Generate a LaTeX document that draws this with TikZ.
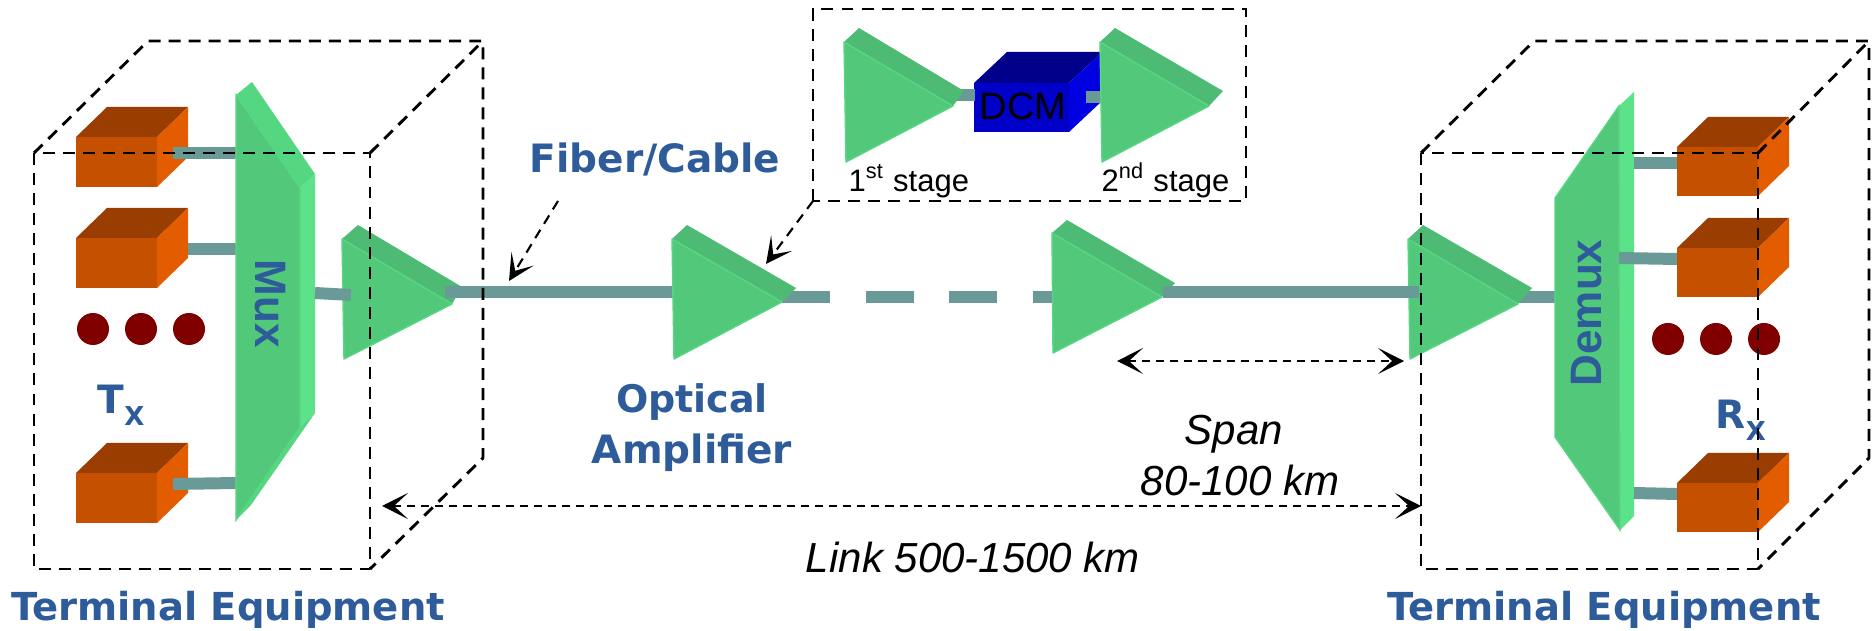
\documentclass[tikz,border=0pt]{standalone}
\usepackage{fontspec}
\setmainfont{Liberation Sans}
\newfontfamily\labfont[BoldFont={DejaVu Sans Bold}]{DejaVu Sans}
\usetikzlibrary{arrows.meta}
\definecolor{ampfront}{HTML}{51C87A}
\definecolor{amptop}{HTML}{4DBB73}
\definecolor{ampedge}{HTML}{58D682}
\definecolor{muxtop}{HTML}{55D680}
\definecolor{muxside}{HTML}{5CE289}
\definecolor{boxfront}{HTML}{C45000}
\definecolor{boxtop}{HTML}{993D00}
\definecolor{boxside}{HTML}{E35D00}
\definecolor{fibercol}{HTML}{6A9A98}
\definecolor{labelblue}{HTML}{2E5B99}
\definecolor{dotcol}{HTML}{800000}
\definecolor{dcmfront}{HTML}{0000C8}
\definecolor{dcmtop}{HTML}{00008B}
\definecolor{dcmside}{HTML}{0000E0}
\newcommand\fsz[1]{\fontsize{\dimexpr#1\dimexpr0.2845pt\relax\relax}{\dimexpr#1\dimexpr0.3pt\relax\relax}\selectfont}
\tikzset{
  x=0.01cm,y=-0.01cm,
  fiber/.style={draw=fibercol,line width=3.41pt},
  boxline/.style={draw=black,line width=0.82pt,dash pattern=on 3.4pt off 2.3pt},
  measure/.style={draw=black,line width=0.5pt,dash pattern=on 2.3pt off 1.7pt,
     {Stealth[length=7.4pt,width=7.4pt,inset=4pt]}-{Stealth[length=7.4pt,width=7.4pt,inset=4pt]}},
  pointer/.style={draw=black,line width=0.6pt,dash pattern=on 2.8pt off 2pt,
     -{Stealth[length=7.4pt,width=7.4pt,inset=4pt]}},
  bluelabel/.style={text=labelblue,font=\labfont\bfseries,inner sep=0pt,anchor=base},
  blacklabel/.style={text=black,inner sep=0pt,anchor=base},
  dot/.style={fill=dotcol,draw=none},
}
% amplifier: #1 name, #2 top-left, #3 bottom-left, #4 front tip, #5 back top, #6 back tip
\newcommand\ampshape[6]{
  \fill[amptop] #2 -- #5 -- #6 -- #4 -- cycle;
  \fill[ampfront,draw=ampedge,line width=0.4pt,line join=round] #2 -- #3 -- #4 -- cycle;
  \coordinate (#1-tip) at #4;
}
% orange box: front left, top, right, bottom
\newcommand\txbox[4]{
  \fill[boxfront] (#1,#2) rectangle (#3,#4);
  \fill[boxtop] (#1,#2) -- (#1+31,#2-30) -- (#3+31,#2-30) -- (#3,#2) -- cycle;
  \fill[boxside] (#3,#2) -- (#3+31,#2-30) -- (#3+31,#4-30) -- (#3,#4) -- cycle;
}
\begin{document}
\begin{tikzpicture}
\useasboundingbox (0,0) rectangle (1873,631);
\fill[white] (0,0) rectangle (1873,631);

% --- end points of the connectors
\coordinate (txa) at (173,153);  \coordinate (muxa) at (236,153);
\coordinate (txb) at (188,249);  \coordinate (muxb) at (238,249);
\coordinate (txc) at (173,484);  \coordinate (muxc) at (236,483);
\coordinate (muxout) at (315,293); \coordinate (ampAin) at (351,295);
\coordinate (ampAout) at (445,292); \coordinate (ampBin) at (680,292);
\coordinate (ampBout) at (782,297); \coordinate (ampCin) at (1060,297);
\coordinate (ampCout) at (1163,292); \coordinate (ampDin) at (1419,292);
\coordinate (ampDout) at (1515,297); \coordinate (demuxin) at (1556,297);
\coordinate (rxa) at (1677,163); \coordinate (demuxa) at (1634,163);
\coordinate (rxb) at (1677,259); \coordinate (demuxb) at (1619,258);
\coordinate (rxc) at (1677,494); \coordinate (demuxc) at (1634,493);
\coordinate (insOutA) at (950,95); \coordinate (dcmIn) at (975,95);
\coordinate (dcmOut) at (1086,97); \coordinate (insInB) at (1101,97);

% --- transmitters
\txbox{76}{137}{157}{187}
\txbox{76}{238}{157}{288}
\txbox{76}{473}{157}{523}
\fill[dot] (93,329) circle (16);
\fill[dot] (141,329) circle (16);
\fill[dot] (189,329) circle (16);
\node[bluelabel,anchor=base west] (txlabel) at (97,414) {\fsz{39}T\raisebox{-3.2pt}{\fsz{26}X}};

% --- fibres under the mux
\draw[fiber] (txa) -- (muxa);
\draw[fiber] (txb) -- (muxb);
\draw[fiber] (txc) -- (muxc);

% --- mux
\fill[muxtop] (236,95) -- (252,82) -- (315,174) -- (300,188) -- cycle;
\fill[muxside] (300,188) -- (315,174) -- (315,413) -- (300,427) -- cycle;
\fill[muxtop] (236,520) -- (251,505) -- (315,413) -- (300,427) -- cycle;
\fill[ampfront,draw=ampedge,line width=0.4pt] (236,95) -- (300,188) -- (300,427) -- (236,520) -- cycle;
\node[text=labelblue,inner sep=0pt,rotate=-90,font=\bfseries\fsz{44}] (muxlabel) at (270,304) {Mux};

% --- fibres and amplifiers of the link
\ampshape{ampA}{(342,239)}{(344,359)}{(452,304)}{(358,225)}{(462,287)}
\draw[fiber] (muxout) -- (ampAin);
\draw[fiber] (ampAout) -- (ampBin);
\draw[fiber,dash pattern=on 13.66pt off 10.1pt] (ampBout) -- (ampCin);
\draw[fiber] (ampDout) -- (demuxin);
\ampshape{ampB}{(672,239)}{(674,359)}{(782,302)}{(687,225)}{(796,288)}
\ampshape{ampC}{(1052,233)}{(1053,353)}{(1162,297)}{(1067,220)}{(1175,283)}
\ampshape{ampD}{(1408,239)}{(1410,359)}{(1518,304)}{(1423,225)}{(1532,288)}
\draw[fiber] (ampCout) -- (ampDin);

% --- demux
\fill[muxside] (1619,106) -- (1634,92) -- (1634,516) -- (1620,530) -- cycle;
\fill[ampfront,draw=ampedge,line width=0.4pt] (1555,198) -- (1619,106) -- (1620,530) -- (1555,437) -- cycle;
\node[text=labelblue,inner sep=0pt,rotate=90,font=\bfseries\fsz{44}] (demuxlabel) at (1587,313) {Demux};

% --- receivers
\draw[fiber] (demuxa) -- (rxa);
\draw[fiber] (demuxb) -- (rxb);
\draw[fiber] (demuxc) -- (rxc);
\txbox{1677}{147}{1758}{196}
\txbox{1677}{248}{1758}{297}
\txbox{1677}{483}{1758}{532}
\fill[dot] (1668,339) circle (16);
\fill[dot] (1716,339) circle (16);
\fill[dot] (1764,339) circle (16);
\node[bluelabel,anchor=base west] (rxlabel) at (1715,429) {\fsz{39}R\raisebox{-3.2pt}{\fsz{26}X}};

% --- inset
\fill[dcmfront] (974,83) rectangle (1069,132);
\fill[dcmtop] (974,83) -- (1007,52) -- (1102,52) -- (1069,83) -- cycle;
\fill[dcmside] (1069,83) -- (1102,52) -- (1102,101) -- (1069,132) -- cycle;
\draw[fiber] (insOutA) -- (dcmIn);
\draw[fiber] (dcmOut) -- (insInB);
\ampshape{stA}{(844,42)}{(846,162)}{(953,106)}{(859,28)}{(964,91)}
\ampshape{stB}{(1100,42)}{(1102,162)}{(1209,106)}{(1115,28)}{(1223,91)}
\node[blacklabel,font=\fsz{38}] (dcmlabel) at (1023,120) {DCM};
\node[blacklabel,anchor=base west,font=\fsz{31}] (stone) at (848,192) {1\textsuperscript{st} stage};
\node[blacklabel,anchor=base west,font=\fsz{31}] (sttwo) at (1101,192) {2\textsuperscript{nd} stage};
\coordinate (insetcorner) at (813,201);
\draw[boxline] (insetcorner) -- (813,9) -- (1246,9) -- (1246,201) -- cycle;

% --- terminal boxes
\draw[boxline,line join=round] (34,153) rectangle (370,569);
\draw[boxline,line join=round] (34,153) -- (148,41) -- (483,41) -- (483,458) -- (370,569);
\draw[boxline] (370,153) -- (483,41);
\draw[boxline,line join=round] (1421,153) rectangle (1758,569);
\draw[boxline,line join=round] (1421,153) -- (1534,41) -- (1869,41) -- (1869,458) -- (1758,569);
\draw[boxline] (1758,153) -- (1869,41);

% --- measures and pointers
\coordinate (spanL) at (1117,361); \coordinate (spanR) at (1404,361);
\coordinate (linkL) at (382,506);  \coordinate (linkR) at (1421,506);
\draw[measure] (spanL) -- (spanR);
\draw[measure] (linkL) -- (linkR);
\coordinate (fiberfrom) at (558,201); \coordinate (fiberto) at (509,281);
\coordinate (ampto) at (766,264);
\draw[pointer] (fiberfrom) -- (fiberto);
\draw[pointer] (insetcorner) -- (ampto);

% --- labels
\node[bluelabel,font=\labfont\bfseries\fsz{38.5}] (tel) at (228,621) {Terminal Equipment};
\node[bluelabel,font=\labfont\bfseries\fsz{38.5}] (ter) at (1604,621) {Terminal Equipment};
\node[bluelabel,font=\labfont\bfseries\fsz{39}] (fiberlabel) at (655,173) {Fiber/Cable};
\node[bluelabel,font=\labfont\bfseries\fsz{38}] (optlabel) at (692,413) {Optical};
\node[bluelabel,font=\labfont\bfseries\fsz{39}] (amplabel) at (692,464) {Amplifier};
\node[blacklabel,font=\itshape\fsz{42}] (spanlabel) at (1234,445) {Span};
\node[blacklabel,font=\itshape\fsz{42}] (kmlabel) at (1240,496) {80-100 km};
\node[blacklabel,font=\itshape\fsz{42}] (linklabel) at (973,573) {Link 500-1500 km};
\end{tikzpicture}
\end{document}
